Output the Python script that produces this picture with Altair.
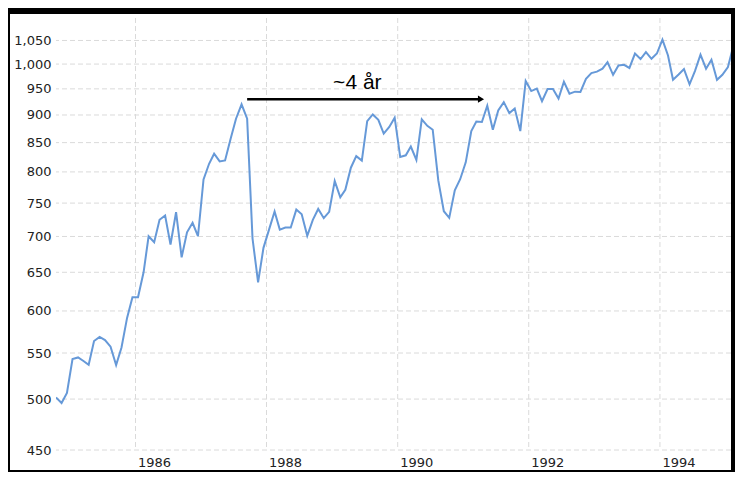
import altair as alt
import pandas as pd

# Monthly index values, Oct 1984 .. Feb 1995
values = [
    501.7, 495.9, 506.3, 543.2, 545, 541.3, 536.8, 563.8, 568.6, 565, 557.2, 536.5, 556.4, 591.4, 617.2,
    617.2, 650, 700.3, 691.7, 724.5, 731, 688.4, 736, 670.5, 706, 720, 700.3,
    787.5, 813.6, 830.7, 817.5, 819.2, 856.8, 893, 920, 893, 697, 636.6, 683.7,
    710, 737, 710, 713, 713, 740, 733, 701, 724.5, 741, 727, 736.5,
    785, 759, 771, 807, 826.5, 819, 888.7, 901, 891, 866, 878, 895,
    825, 828, 843, 820, 892, 880, 873, 786, 737.5, 727.5, 770, 788,
    816, 870.5, 888, 887, 917.5, 873, 908.6, 924.3, 903.5, 912, 870.5, 965.5,
    945.7, 950.4, 926, 949.5, 949.5, 931, 964, 940.6, 944.5, 944, 970, 981.6,
    984.4, 990.5, 1004, 978, 997, 998.5, 992, 1022, 1010.5, 1025, 1011, 1022,
    1052, 1018, 968, 978.5, 989.5, 959, 985.6, 1019.7, 990.5, 1009, 968, 978,
    994, 1040,
]
dates = pd.date_range("1984-10-15", periods=len(values), freq=pd.DateOffset(months=1))

y_ticks = [450, 500, 550, 600, 650, 700, 750, 800, 850, 900, 950, 1000, 1050]
x_tick_years = [1986, 1988, 1990, 1992, 1994]

annot_text = ["~4 år"]
annot_text_date = ["1989-05-21"]
annot_text_value = [950]
arrow_start = ["1987-09-15"]
arrow_end = ["1991-04-10"]
arrow_value = [930]

df = pd.DataFrame({"date": dates, "value": values})
hgrid = pd.DataFrame({"v": y_ticks})
vgrid = pd.DataFrame({"d": [f"{y}-01-01" for y in x_tick_years]})
arrow = pd.DataFrame({"s": arrow_start, "e": arrow_end, "v": arrow_value})
label = pd.DataFrame({"d": annot_text_date, "v": annot_text_value, "t": annot_text})

xscale = alt.Scale(domain=[alt.DateTime(year=1984, month=10, date=15),
                           alt.DateTime(year=1995, month=2, date=1)])
yscale = alt.Scale(type="log", domain=[450, 1100])

x_axis = alt.Axis(values=[alt.DateTime(year=y) for y in x_tick_years], format="%Y",
                  grid=False, domain=False, ticks=False, labelAlign="left",
                  labelOffset=2, labelPadding=6, labelFlush=False, title=None)
y_axis = alt.Axis(values=y_ticks, format=",", grid=False, domain=False, ticks=False,
                  labelPadding=5, title=None)

grid_color = "#dadada"
grid_dash = [5, 3]

one = pd.DataFrame({"a": [0]})


def band(x1, x2, y1, y2):
    return alt.Chart(one).mark_rect(color="black").encode(
        x=alt.value(x1), x2=alt.value(x2), y=alt.value(y1), y2=alt.value(y2)
    )


frame = [band(-48, -46, -10, 454), band(-48, 679, -10, -4),
         band(675, 679, -10, 454), band(-48, 679, 452, 454)]

hg = alt.Chart(hgrid).mark_rule(color=grid_color, strokeDash=grid_dash, strokeWidth=1).encode(
    y=alt.Y("v:Q", scale=yscale, axis=y_axis)
)
vg = alt.Chart(vgrid).mark_rule(color=grid_color, strokeDash=grid_dash, strokeWidth=1).encode(
    x=alt.X("d:T", scale=xscale, axis=x_axis)
)

line = alt.Chart(df).mark_line(color="#6699d8", strokeWidth=2, clip=True).encode(
    x=alt.X("date:T", scale=xscale, axis=x_axis),
    y=alt.Y("value:Q", scale=yscale, axis=y_axis),
)

arr = alt.Chart(arrow).mark_rule(color="black", strokeWidth=2.5).encode(
    x=alt.X("s:T", scale=xscale, axis=x_axis), x2="e:T",
    y=alt.Y("v:Q", scale=yscale, axis=y_axis)
)
head = alt.Chart(arrow).mark_point(shape="triangle-right", filled=True, size=50,
                                   color="black", opacity=1).encode(
    x=alt.X("e:T", scale=xscale, axis=x_axis), y=alt.Y("v:Q", scale=yscale, axis=y_axis)
)
txt = alt.Chart(label).mark_text(font="Liberation Sans", fontSize=21, color="black",
                                 baseline="alphabetic", align="center").encode(
    x=alt.X("d:T", scale=xscale, axis=x_axis), y=alt.Y("v:Q", scale=yscale, axis=y_axis),
    text="t:N"
)

chart = alt.layer(hg, vg, line, arr, head, txt, *frame).properties(
    width=675, height=432,
    autosize=alt.AutoSizeParams(type="none"),
    padding={"left": 48, "top": 10, "right": 4, "bottom": 22},
    background="white",
).configure_view(stroke=None, fill=None).configure_axis(
    labelFont="DejaVu Sans", labelFontSize=13, labelColor="#222222"
)

chart.save("out.html", embed_options={"renderer": "svg", "actions": False})
